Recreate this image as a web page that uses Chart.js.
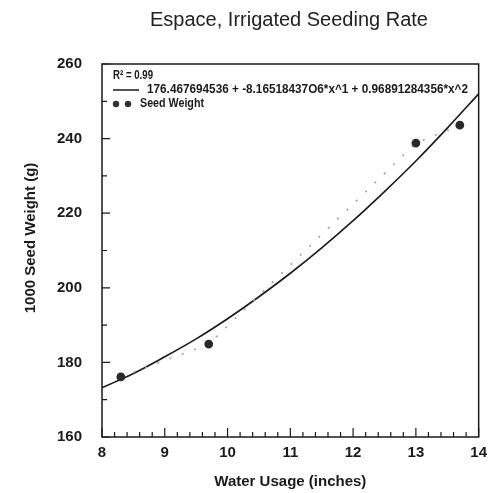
<!DOCTYPE html>
<html>
<head>
<meta charset="utf-8">
<script src="https://cdn.jsdelivr.net/npm/chart.js@4"></script>
<style>
  html, body { margin: 0; padding: 0; background: #fff; }
  #wrap { width: 494px; height: 493px; }
</style>
</head>
<body>
<div id="wrap"><canvas id="chart_id"></canvas></div>
<script>
// measured points
const waterUsage = [8.3, 9.7, 13.0, 13.7];
const seedWeight = [176.1, 184.9, 238.8, 243.6];

// fitted curve
const fitX = [8, 8.5, 9, 9.5, 10, 10.5, 11, 11.5, 12, 12.5, 13, 13.5, 14];
const fitY = [173.2, 177.0, 181.5, 186.3, 191.7, 197.6, 203.9, 210.7, 218.0, 225.8, 234.0, 242.8, 252.0];

const xTicks = [8, 9, 10, 11, 12, 13, 14];
const yTicks = [160, 180, 200, 220, 240, 260];

const titleText = "Espace, Irrigated Seeding Rate";
const yTitle = "1000 Seed Weight (g)";
const r2Text = "R² = 0.99";
const fitLabel = "176.467694536 + -8.16518437O6*x^1 + 0.96891284356*x^2";
const seedLabel = "Seed Weight";

const ink = "#1a1a1a";
const fontFam = "'Liberation Sans', Arial, sans-serif";

// title, frame, inward ticks and the inside legend
const decorPlugin = {
  id: "decor",
  afterDraw(chart) {
    const ctx = chart.ctx;
    const area = chart.chartArea;
    const xs = chart.scales.x;
    const ys = chart.scales.y;
    ctx.save();

    ctx.fillStyle = "#222";
    ctx.font = "20px " + fontFam;
    ctx.textAlign = "center";
    ctx.textBaseline = "middle";
    ctx.fillText(titleText, 289, 20);

    // y axis title, sits a little above the middle of the plot
    ctx.save();
    ctx.translate(31, 238);
    ctx.rotate(-Math.PI / 2);
    ctx.fillStyle = ink;
    ctx.font = "bold 15px " + fontFam;
    ctx.fillText(yTitle, 0, 0);
    ctx.restore();

    ctx.strokeStyle = ink;
    ctx.lineWidth = 1.5;
    ctx.strokeRect(area.left, area.top, area.right - area.left, area.bottom - area.top);

    ctx.lineWidth = 1.2;
    ctx.beginPath();
    for (let v = 8; v <= 14.001; v += 0.2) {
      const px = xs.getPixelForValue(v);
      const major = Math.abs(v - Math.round(v)) < 0.01;
      ctx.moveTo(px, area.bottom);
      ctx.lineTo(px, area.bottom - (major ? 9 : 5));
    }
    for (let v = 160; v <= 260; v += 10) {
      const py = ys.getPixelForValue(v);
      const major = v % 20 === 0;
      ctx.moveTo(area.left, py);
      ctx.lineTo(area.left + (major ? 8 : 5), py);
    }
    ctx.stroke();

    // legend
    ctx.fillStyle = ink;
    ctx.textAlign = "left";
    ctx.font = "bold 12px " + fontFam;
    ctx.fillText(r2Text, 113, 76, 40);
    ctx.fillText(fitLabel, 147, 90, 321);
    ctx.fillText(seedLabel, 140, 104, 64);

    ctx.lineWidth = 1.5;
    ctx.beginPath();
    ctx.moveTo(113, 90);
    ctx.lineTo(139, 90);
    ctx.stroke();

    ctx.fillStyle = "#333";
    [116, 128].forEach((cx) => {
      ctx.beginPath();
      ctx.arc(cx, 104, 3.2, 0, Math.PI * 2);
      ctx.fill();
    });
    ctx.restore();
  }
};

const ctx = document.getElementById("chart_id");

new Chart(ctx, {
  type: "scatter",
  data: {
    datasets: [
      {
        label: "fit",
        data: fitX.map((x, i) => ({ x: x, y: fitY[i] })),
        showLine: true,
        borderColor: ink,
        borderWidth: 1.6,
        pointRadius: 0,
        cubicInterpolationMode: "monotone",
        order: 2
      },
      {
        label: seedLabel,
        data: waterUsage.map((x, i) => ({ x: x, y: seedWeight[i] })),
        showLine: true,
        borderColor: "#a0a0a0",
        borderWidth: 1.6,
        borderDash: [2, 11],
        pointRadius: 3.6,
        pointBackgroundColor: "#2a2a2a",
        pointBorderColor: "#2a2a2a",
        order: 1
      }
    ]
  },
  options: {
    responsive: true,
    maintainAspectRatio: false,
    animation: false,
    layout: { padding: { left: 0, top: 64, right: 12, bottom: 0 } },
    plugins: {
      legend: { display: false },
      tooltip: { enabled: false },
      title: { display: false }
    },
    scales: {
      x: {
        type: "linear",
        min: 8,
        max: 14,
        afterFit: (scale) => { scale.height = 56; },
        afterBuildTicks: (scale) => { scale.ticks = xTicks.map((v) => ({ value: v })); },
        grid: { display: false, drawTicks: false },
        border: { display: false },
        ticks: {
          autoSkip: false,
          maxRotation: 0,
          padding: 7,
          color: ink,
          font: { family: fontFam, size: 15, weight: "bold" }
        },
        title: {
          display: true,
          text: "Water Usage (inches)",
          color: ink,
          padding: { top: 0, bottom: 2 },
          font: { family: fontFam, size: 15, weight: "bold" }
        }
      },
      y: {
        type: "linear",
        min: 160,
        max: 260,
        afterFit: (scale) => { scale.width = 102; },
        afterBuildTicks: (scale) => { scale.ticks = yTicks.map((v) => ({ value: v })); },
        grid: { display: false, drawTicks: false },
        border: { display: false },
        ticks: {
          padding: 20,
          color: ink,
          font: { family: fontFam, size: 15, weight: "bold" }
        },
        title: { display: false }
      }
    }
  },
  plugins: [decorPlugin]
});
</script>
</body>
</html>
